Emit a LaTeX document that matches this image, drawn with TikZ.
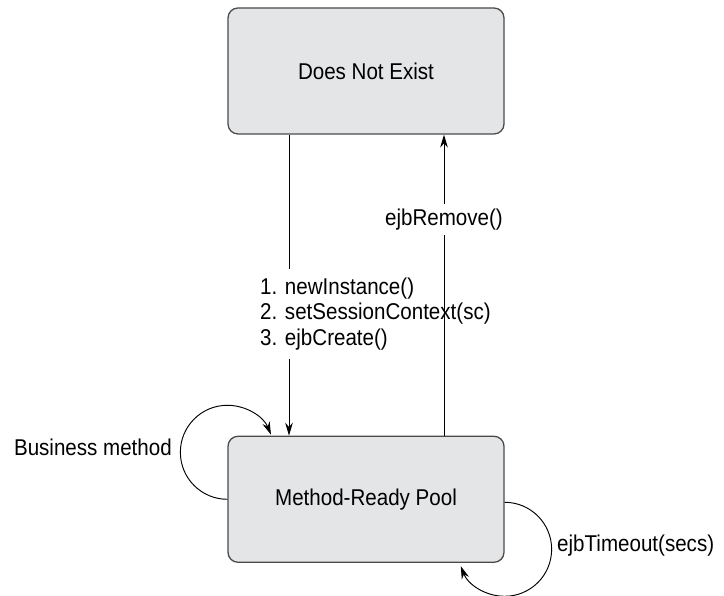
\documentclass[tikz,border=0pt]{standalone}
\usepackage{fontspec}
\setmainfont{Liberation Sans}[FakeStretch=0.9]
\usetikzlibrary{arrows.meta, positioning}

\definecolor{boxgray}{HTML}{E4E5E7}
\definecolor{edgegray}{HTML}{4A4A4A}

\begin{document}
\begin{tikzpicture}[
  font=\fontsize{19.5pt}{21.8pt}\selectfont,
  state/.style={draw=edgegray, line width=1.1pt, fill=boxgray, rounded corners=0.3cm,
                minimum width=8.28cm, minimum height=3.78cm, inner sep=0pt},
  flow/.style={line width=0.8pt, -{Stealth[length=11pt, width=6.5pt]}},
  lbl/.style={inner sep=0pt}
]
  \useasboundingbox (0, 0) rectangle (21.72, 17.88);

  % the two states
  \node[state] (dne) at (10.98, 15.75) {Does Not Exist};
  \node[state, below=9.03cm of dne] (pool) {Method-Ready Pool};

  % labels of the transitions
  \node[lbl, fill=white, inner ysep=0.25cm, align=left, anchor=west] (create) at (7.8, 8.46)
    {1. newInstance()\\2. setSessionContext(sc)\\3. ejbCreate()};
  \node[lbl, fill=white, inner ysep=0.13cm] (remove) at (13.32, 11.3) {ejbRemove()};
  \node[lbl, anchor=base east] (business) at (5.16, 4.2) {Business method};
  \node[lbl, anchor=base west] (timeout) at (16.71, 1.32) {ejbTimeout(secs)};

  % creation: Does Not Exist -> Method-Ready Pool
  \coordinate (inx) at ([xshift=-2.31cm]dne.south);
  \draw[line width=0.8pt] (inx) -- (inx |- create.north);
  \draw[flow] (inx |- create.south) -- (inx |- pool.north);

  % removal: Method-Ready Pool -> Does Not Exist
  \coordinate (outx) at ([xshift=2.34cm]pool.north);
  \draw[line width=0.8pt] (outx) -- (outx |- remove.south);
  \draw[flow] (outx |- remove.north) -- (outx |- dne.south);

  % self loops
  \draw[flow] (pool.west) arc[start angle=270, end angle=22, radius=1.41];
  \draw[flow] ([yshift=-0.09cm]pool.east) arc[start angle=90, end angle=-159, radius=1.41];
\end{tikzpicture}
\end{document}
